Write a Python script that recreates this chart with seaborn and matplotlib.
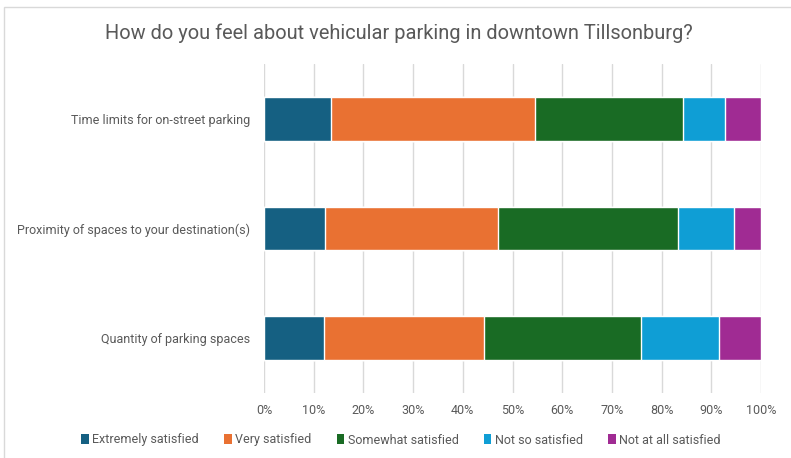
import matplotlib
matplotlib.use("Agg")
import matplotlib.pyplot as plt
from matplotlib.patches import Patch, Rectangle
from matplotlib.ticker import PercentFormatter
import numpy as np
import pandas as pd
import seaborn as sns

# Survey topics (top to bottom) and response shares in percent
topics = [
    "Time limits for on-street parking",
    "Proximity of spaces to your destination(s)",
    "Quantity of parking spaces",
]
responses = [
    "Extremely satisfied",
    "Very satisfied",
    "Somewhat satisfied",
    "Not so satisfied",
    "Not at all satisfied",
]
extremely_satisfied = [13.5, 12.3, 12.0]
very_satisfied = [41.1, 34.8, 32.2]
somewhat_satisfied = [29.8, 36.3, 31.7]
not_so_satisfied = [8.3, 11.1, 15.7]
not_at_all_satisfied = [7.3, 5.5, 8.4]

colors = ["#156082", "#E97132", "#196B24", "#0F9ED5", "#A02B93"]

sns.set_theme(style="white")
plt.rcParams["font.family"] = ["Roboto", "DejaVu Sans"]

shares = pd.DataFrame(
    [extremely_satisfied, very_satisfied, somewhat_satisfied,
     not_so_satisfied, not_at_all_satisfied],
    index=responses, columns=topics,
).T
cumulative = shares.cumsum(axis=1)

fig = plt.figure(figsize=(7.91, 4.58), dpi=100)
fig.patch.set_facecolor("white")

# Thin chart-area frame along the top and left edge
fig.add_artist(Rectangle((4 / 791, -0.05), 1.2, 1 - 7 / 458 + 0.05,
                         transform=fig.transFigure, fill=False,
                         edgecolor="#D9D9D9", linewidth=1.0))

ax = fig.add_axes([264 / 791, 1 - 393 / 458, (761 - 264) / 791, (393 - 64) / 458])

# Stack the segments by drawing cumulative totals from the outermost inward
for resp, col in reversed(list(zip(responses, colors))):
    df = pd.DataFrame({"topic": topics, "value": cumulative[resp].values})
    sns.barplot(data=df, y="topic", x="value", orient="h", color=col,
                width=0.4, saturation=1, ax=ax, order=topics)

ax.set_xlim(0, 100)
ax.set_xticks(np.arange(0, 101, 10))
ax.xaxis.set_major_formatter(PercentFormatter(decimals=0))
ax.grid(axis="x", color="#D9D9D9", linewidth=1.0)
ax.set_axisbelow(True)
for s in ax.spines.values():
    s.set_visible(False)
ax.set_xlabel("")
ax.set_ylabel("")
ax.tick_params(axis="both", length=0, colors="#595959", labelsize=9)
ax.tick_params(axis="x", pad=8)
ax.tick_params(axis="y", pad=10)

fig.text(399 / 791, 1 - 33 / 458,
         "How do you feel about vehicular parking in downtown Tillsonburg?",
         ha="center", va="center", fontsize=14.4, color="#595959")

handles = [Patch(facecolor=c, edgecolor="none") for c in colors]
fig.legend(handles, responses, loc="center", ncol=5,
           bbox_to_anchor=(401 / 791, 1 - 440 / 458), frameon=False,
           fontsize=9, labelcolor="#595959", handlelength=0.6,
           handleheight=0.9, handletextpad=0.3, columnspacing=2.0)

fig.savefig("out.png", dpi=100, facecolor="white")
